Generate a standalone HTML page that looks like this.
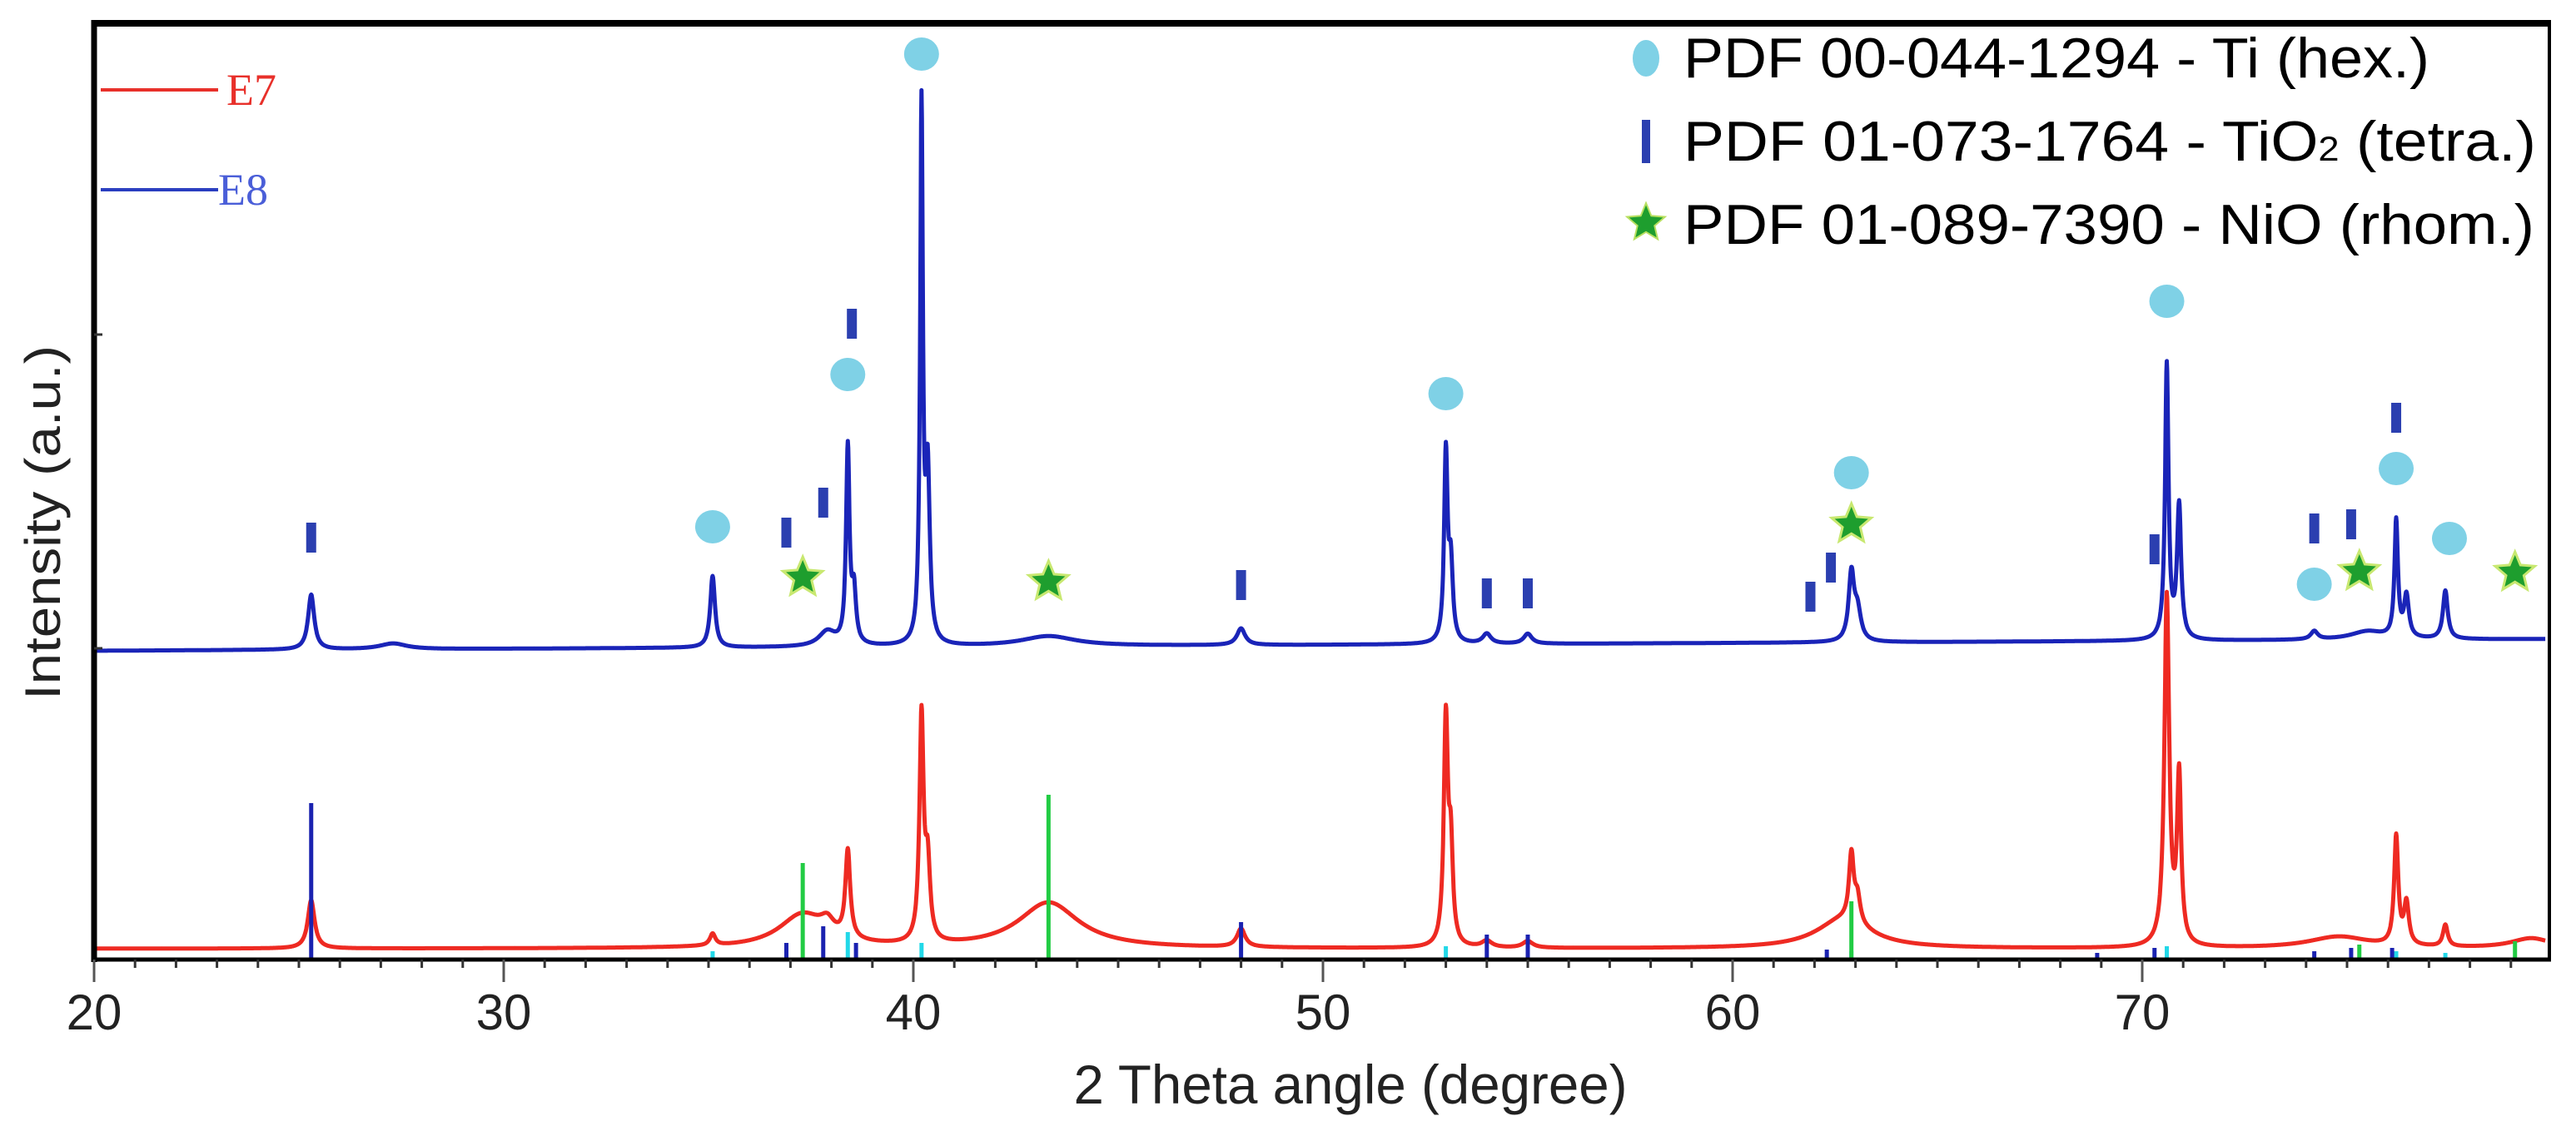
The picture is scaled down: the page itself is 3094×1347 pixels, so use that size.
<!DOCTYPE html>
<html><head><meta charset="utf-8"><style>
html,body{margin:0;padding:0;background:#fff;}
svg{display:block;}
</style></head><body>
<svg id="chart" width="3094" height="1347" viewBox="0 0 3094 1347" xmlns="http://www.w3.org/2000/svg">
<rect x="0" y="0" width="3094" height="1347" fill="#fff"/>
<g id="sticks"></g>
<g id="curves"></g>
<g id="refsticks"></g>
<g id="markers"></g>
<g id="axes"></g>
<g>
  <line x1="121" y1="108" x2="262" y2="108" stroke="#e8302a" stroke-width="4"/>
  <text x="272" y="126" font-family="Liberation Serif, serif" font-size="54" fill="#e8302a">E7</text>
  <line x1="121" y1="228" x2="262" y2="228" stroke="#2a3ec0" stroke-width="4"/>
  <text x="262" y="246" font-family="Liberation Serif, serif" font-size="54" fill="#4a5ed8">E8</text>
</g>
<g>
  <ellipse cx="1977" cy="70" rx="16" ry="22" fill="#7fd1e6"/>
  <text x="2022" y="93" font-family="Liberation Sans, sans-serif" font-size="68" fill="#000" textLength="896" lengthAdjust="spacingAndGlyphs">PDF 00-044-1294 - Ti (hex.)</text>
  <rect x="1972" y="144" width="10" height="52" fill="#2b3fb0"/>
  <text x="2022" y="193" font-family="Liberation Sans, sans-serif" font-size="68" fill="#000" textLength="1024" lengthAdjust="spacingAndGlyphs">PDF 01-073-1764 - TiO<tspan font-size="42">2</tspan> (tetra.)</text>
  <polygon id="legstar" fill="#1e9e2e" stroke="#b8e060" stroke-width="2"/>
  <text x="2022" y="293" font-family="Liberation Sans, sans-serif" font-size="68" fill="#000" textLength="1022" lengthAdjust="spacingAndGlyphs">PDF 01-089-7390 - NiO (rhom.)</text>
</g>
<text x="1622" y="1326" text-anchor="middle" font-family="Liberation Sans, sans-serif" font-size="66" fill="#222" textLength="665" lengthAdjust="spacingAndGlyphs">2 Theta angle (degree)</text>
<text transform="translate(72,628) rotate(-90)" text-anchor="middle" font-family="Liberation Sans, sans-serif" font-size="60" fill="#222" textLength="426" lengthAdjust="spacingAndGlyphs">Intensity (a.u.)</text>
</svg>
<script>
// ---- data ----
const xTicks = [20, 30, 40, 50, 60, 70];
const xTickLabels = ["20", "30", "40", "50", "60", "70"];
// E7 peaks: position (deg), height (a.u.), half-width (deg)
const e7Pos = [25.3, 35.1, 37.3, 37.9, 38.4, 40.2, 40.35, 43.3, 48.0, 53.0, 53.12, 54.0, 55.0, 62.7, 62.9, 63.05, 70.6, 70.9, 74.8, 76.2, 76.45, 77.4, 79.5];
const e7Height = [58, 14, 40, 16, 105, 270, 90, 55, 22, 270, 110, 8, 8, 35, 80, 30, 420, 200, 14, 130, 50, 26, 12];
const e7Width = [0.1, 0.08, 0.7, 0.2, 0.07, 0.06, 0.07, 0.9, 0.12, 0.06, 0.06, 0.15, 0.15, 0.8, 0.07, 0.08, 0.07, 0.06, 0.9, 0.06, 0.07, 0.07, 0.6];
const e7Base = [13, 13];
// E8 peaks
const e8Pos = [25.3, 27.3, 35.1, 37.9, 38.4, 38.55, 40.2, 40.35, 43.3, 48.0, 53.0, 53.12, 54.0, 55.0, 62.9, 63.05, 70.6, 70.9, 74.2, 75.5, 76.2, 76.45, 77.4];
const e8Height = [66, 7, 86, 18, 235, 60, 640, 200, 12, 20, 225, 90, 12, 12, 80, 35, 330, 160, 10, 10, 140, 50, 58];
const e8Width = [0.09, 0.4, 0.07, 0.25, 0.05, 0.06, 0.04, 0.06, 0.8, 0.12, 0.05, 0.06, 0.12, 0.12, 0.08, 0.1, 0.05, 0.06, 0.1, 0.5, 0.05, 0.07, 0.07];
const e8Base = [371, 385];
// reference sticks (PDF cards): position, height (a.u.)
const tio2StickPos = [25.3, 36.9, 37.8, 38.6, 48.0, 54.0, 55.0, 62.3, 68.9, 70.3, 74.2, 75.1, 76.1];
const tio2StickH = [188, 20, 40, 20, 45, 30, 30, 12, 8, 14, 10, 14, 14];
const tiStickPos = [35.1, 38.4, 40.2, 53.0, 62.9, 70.6, 76.2, 77.4];
const tiStickH = [10, 33, 20, 16, 10, 16, 10, 8];
const nioStickPos = [37.3, 43.3, 62.9, 75.3, 79.1];
const nioStickH = [116, 198, 70, 18, 22];
// phase markers above E8 curve: position, level (a.u.)
const tiMarkPos = [35.1, 38.4, 40.2, 53.0, 62.9, 70.6, 74.2, 76.2, 77.5];
const tiMarkLvl = [520, 703, 1088, 680, 585, 791, 451, 590, 506];
const tio2MarkPos = [25.3, 36.9, 37.8, 38.5, 48.0, 54.0, 55.0, 61.9, 62.4, 70.3, 74.2, 75.1, 76.2];
const tio2MarkLvl = [507, 513, 549, 764, 450, 440, 440, 436, 471, 493, 518, 523, 651];
const nioMarkPos = [37.3, 43.3, 62.9, 75.3, 79.1];
const nioMarkLvl = [459, 454, 523, 466, 465];

// ---- scales ----
const X0 = 113, PX_PER_DEG = 49.2, Y0 = 1153;
function xs(d){ return X0 + (d - 20) * PX_PER_DEG; }
function ys(v){ return Y0 - v; }
const NS = "http://www.w3.org/2000/svg";
function mk(tag, attrs, parent){ const e = document.createElementNS(NS, tag); for (const k in attrs) e.setAttribute(k, attrs[k]); parent.appendChild(e); return e; }

function profile(d, pos, h, w, base){
  let v = base[0] + (base[1] - base[0]) * (d - 20) / 60;
  for (let i = 0; i < pos.length; i++){ const t = (d - pos[i]) / w[i]; v += h[i] / (1 + t * t); }
  return v;
}
function curvePath(pos, h, w, base){
  let s = "";
  for (let d = 20.05; d <= 79.85; d += 0.01){
    s += (s ? "L" : "M") + xs(d).toFixed(1) + "," + ys(profile(d, pos, h, w, base)).toFixed(1);
  }
  return s;
}
const curves = document.getElementById("curves");
const e8 = mk("path", {d: curvePath(e8Pos, e8Height, e8Width, e8Base), fill: "none", stroke: "#1a24b8", "stroke-width": 5, "stroke-linejoin": "round"}, curves);


const e7 = mk("path", {d: curvePath(e7Pos, e7Height, e7Width, e7Base), fill: "none", stroke: "#ee2a22", "stroke-width": 5, "stroke-linejoin": "round"}, curves);



const ref = document.getElementById("refsticks");
function sticks(pos, h, color, name, wd){
  for (let i = 0; i < pos.length; i++){
    const l = mk("line", {x1: xs(pos[i]), x2: xs(pos[i]), y1: ys(0), y2: ys(h[i]), stroke: color, "stroke-width": wd}, ref);
    
    
  }
}
sticks(tiStickPos, tiStickH, "#22d8e8", "ti-stick", 5);
sticks(tio2StickPos, tio2StickH, "#1a22b0", "tio2-stick", 5);
sticks(nioStickPos, nioStickH, "#22cc44", "nio-stick", 5);

function starPts(cx, cy, R){
  const r = R * 0.45; let p = [];
  for (let k = 0; k < 10; k++){ const a = -Math.PI/2 + k*Math.PI/5; const rr = k%2 ? r : R; p.push((cx + rr*Math.cos(a)).toFixed(1) + "," + (cy + rr*Math.sin(a)).toFixed(1)); }
  return p.join(" ");
}
document.getElementById("legstar").setAttribute("points", starPts(1977, 268, 24));

const mg = document.getElementById("markers");
for (let i = 0; i < tiMarkPos.length; i++){
  const e = mk("ellipse", {cx: xs(tiMarkPos[i]), cy: ys(tiMarkLvl[i]), rx: 21, ry: 20, fill: "#7fd1e6"}, mg);
  
  
}
for (let i = 0; i < tio2MarkPos.length; i++){
  const e = mk("rect", {x: xs(tio2MarkPos[i]) - 6, y: ys(tio2MarkLvl[i]) - 18, width: 12, height: 36, fill: "#2b3fb0"}, mg);
  
  
}
for (let i = 0; i < nioMarkPos.length; i++){
  const e = mk("polygon", {points: starPts(xs(nioMarkPos[i]), ys(nioMarkLvl[i]), 25), fill: "#1e9e2e", stroke: "#c8e870", "stroke-width": 3}, mg);
  
  
}

// axes
const ax = document.getElementById("axes");
const frame = [
  ["line", {x1: 110, y1: 28, x2: 3064, y2: 28, stroke: "#000", "stroke-width": 8}, "top-frame"],
  ["line", {x1: 3062, y1: 26, x2: 3062, y2: 1155, stroke: "#000", "stroke-width": 4}, "right-frame"],
  ["line", {x1: 113, y1: 24, x2: 113, y2: 1156, stroke: "#000", "stroke-width": 7}, "y-axis-line"],
  ["line", {x1: 110, y1: 1153, x2: 3064, y2: 1153, stroke: "#000", "stroke-width": 5}, "x-axis-line"]
];
frame.forEach(f => { const e = mk(f[0], f[1], ax);   });
for (let d = 21; d < 80; d++){
  if (d % 10 === 0) continue;
  const t = mk("line", {x1: xs(d), x2: xs(d), y1: 1153, y2: 1163, stroke: "#333", "stroke-width": 3}, ax);
  
  
}
for (let i = 0; i < xTicks.length; i++){
  const t = mk("line", {x1: xs(xTicks[i]), x2: xs(xTicks[i]), y1: 1153, y2: 1180, stroke: "#555", "stroke-width": 3}, ax);
  
  
  const lb = mk("text", {x: xs(xTicks[i]), y: 1237, "text-anchor": "middle", "font-family": "Liberation Sans, sans-serif", "font-size": 60, fill: "#222"}, ax);
  lb.textContent = xTickLabels[i];
  
  
}
[402, 779].forEach(y => {
  const t = mk("line", {x1: 113, x2: 123, y1: y, y2: y, stroke: "#333", "stroke-width": 3}, ax);
  
  
});
</script>
</body></html>
